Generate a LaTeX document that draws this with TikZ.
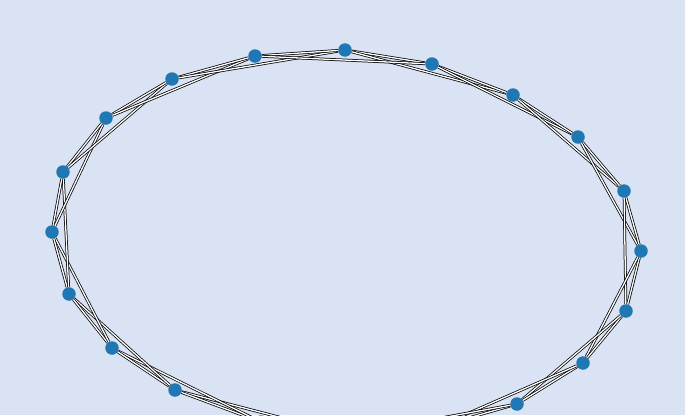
\documentclass[tikz,border=0pt]{standalone}
\definecolor{paleblue}{HTML}{DAE3F3}
\definecolor{dotblue}{HTML}{1F77B4}

\begin{document}
\begin{tikzpicture}[x=1pt,y=-1pt,
  dot/.style={circle,fill=dotblue,inner sep=0pt,minimum size=13.5pt},
  link/.style={draw=black,line width=.75pt,double=white,double distance=1.3pt}]
\fill[paleblue] (0,0) rectangle (685,415);
\clip (0,0) rectangle (685,415);
% ring of twenty nodes
\foreach \p [count=\i] in {(345,50),(432,64),(513,95),(578,137),(624,191),
  (641,251),(626,311),(583,363),(517,404),(437,427),(348,435),(261,422),
  (175,390),(112,348),(69,294),(52,232),(63,172),(106,118),(172,79),(255,56)}
  \node[dot] (v\i) at \p {};
% each node to its two next neighbours
\foreach \i in {1,...,20}{
  \pgfmathtruncatemacro{\j}{mod(\i,20)+1}
  \pgfmathtruncatemacro{\k}{mod(\i+1,20)+1}
  \draw[link] (v\i) -- (v\j);
  \draw[link] (v\i) -- (v\k);
}
\end{tikzpicture}
\end{document}
